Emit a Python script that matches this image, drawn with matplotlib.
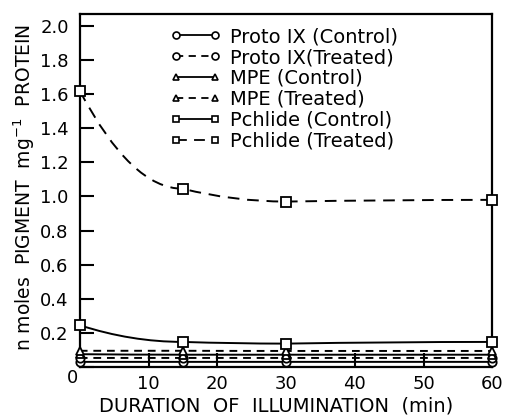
import matplotlib
matplotlib.use("Agg")
import matplotlib.pyplot as plt
from matplotlib.path import Path
from matplotlib.patches import PathPatch
from matplotlib.lines import Line2D

# Data
minutes = [0, 15, 30, 60]
proto_control = [0.03, 0.03, 0.03, 0.03]
proto_treated = [0.053, 0.053, 0.053, 0.053]
mpe_control = [0.075, 0.072, 0.072, 0.072]
mpe_treated = [0.095, 0.095, 0.094, 0.094]
pchl_control = [0.245, 0.147, 0.137, 0.147]
pchl_treated = [1.62, 1.045, 0.97, 0.98]

labels = ["Proto IX (Control)", "Proto IX(Treated)", "MPE (Control)",
          "MPE (Treated)", "Pchlide (Control)", "Pchlide (Treated)"]
markers = ["o", "o", "^", "^", "s", "s"]
styles = ["-", (0, (4, 3)), "-", (0, (4, 3)), "-", (0, (6, 4))]
series = [proto_control, proto_treated, mpe_control, mpe_treated,
          pchl_control, pchl_treated]

plt.rcParams["font.family"] = "DejaVu Sans"

fig = plt.figure(figsize=(5.08, 4.15), dpi=100)
ax = fig.add_axes([0.157, 0.1157, 0.812, 0.8506])


def smooth_path(xs, ys):
    # quadratic bezier between neighbouring points, control at (mid x, next y)
    verts = [(xs[0], ys[0])]
    codes = [Path.MOVETO]
    for i in range(len(xs) - 1):
        verts.append(((xs[i] + xs[i + 1]) / 2, ys[i + 1]))
        verts.append((xs[i + 1], ys[i + 1]))
        codes += [Path.CURVE3, Path.CURVE3]
    return Path(verts, codes)


handles = []
for ys, lab, mk, ls in zip(series, labels, markers, styles):
    ax.add_patch(PathPatch(smooth_path(minutes, ys), fill=False,
                           edgecolor="black", lw=1.4, linestyle=ls))
    ax.plot(minutes, ys, linestyle="none", marker=mk, ms=6.5 if mk == "s" else 6,
            mfc="white", mec="black", mew=1.3, zorder=5, clip_on=False)
    handles.append(Line2D([], [], color="black", lw=1.3, linestyle=ls,
                          marker=mk, ms=5, mfc="white", mec="black", mew=1.2,
                          label=lab))

ax.set_xlim(0, 60)
ax.set_ylim(0, 2.07)
ax.set_xticks([0, 10, 20, 30, 40, 50, 60])
ax.set_xticklabels(["", "10", "20", "30", "40", "50", "60"])
ax.set_yticks([0, 0.2, 0.4, 0.6, 0.8, 1.0, 1.2, 1.4, 1.6, 1.8, 2.0])
ax.set_yticklabels([""] + ["%.1f" % v for v in
                           [0.2, 0.4, 0.6, 0.8, 1.0, 1.2, 1.4, 1.6, 1.8, 2.0]])
ax.tick_params(direction="in", length=10, width=1.5, labelsize=13)
ax.tick_params(axis="x", pad=6)
ax.tick_params(axis="y", pad=8)
for sp in ax.spines.values():
    sp.set_linewidth(1.6)

fig.text(72 / 508, 1 - 378 / 415, "0", fontsize=13, ha="center", va="center")

ax.set_xlabel("DURATION  OF  ILLUMINATION  (min)", fontsize=14)
ax.xaxis.set_label_coords(0.475, -0.085)
fig.text(24 / 508, 1 - 187 / 415, "n moles  PIGMENT  mg$^{-1}$  PROTEIN",
         rotation=90, fontsize=13.5, ha="center", va="center")

ax.legend(handles=handles, loc="upper left", bbox_to_anchor=(0.2, 0.985),
          frameon=False, fontsize=14, handlelength=2.6, numpoints=2,
          labelspacing=0.1, handletextpad=0.5, borderaxespad=0)

fig.savefig("out.png", dpi=100)
